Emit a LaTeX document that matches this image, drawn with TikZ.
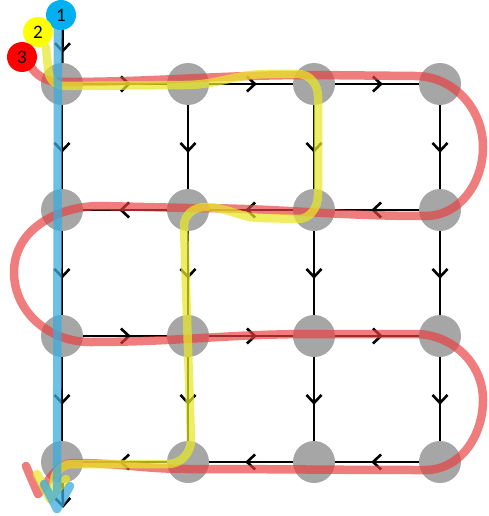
\documentclass[tikz,border=0pt]{standalone}
\usepackage{fontspec}
\setmainfont{Carlito}
\usetikzlibrary{arrows.meta,decorations.markings}
\definecolor{dotgray}{RGB}{166,166,166}
\definecolor{pred}{RGB}{232,64,64}
\definecolor{pyellow}{RGB}{232,232,40}
\definecolor{pblue}{RGB}{60,172,222}
\definecolor{lblue}{RGB}{0,176,240}
\definecolor{lyellow}{RGB}{255,255,0}
\definecolor{lred}{RGB}{255,0,0}
\tikzset{
  dot/.style={circle,fill=dotgray,draw=none,minimum size=42pt,inner sep=0pt},
  flow/.style={line width=2.6pt,black,postaction={decorate},
    decoration={markings,mark=at position 0.57 with {\arrow{Straight Barb[length=8pt,width=15pt]}}}},
  flowin/.style={line width=2.6pt,black,postaction={decorate},
    decoration={markings,mark=at position 0.84 with {\arrow{Straight Barb[length=8pt,width=15pt]}}}},
  flowout/.style={line width=2.6pt,black,-{Straight Barb[length=8pt,width=15pt]}},
  trail/.style={line width=8.5pt,line cap=round,line join=round},
  lab/.style={circle,minimum size=30pt,inner sep=0pt,text=black,font=\fontsize{19}{19}\selectfont}
}
\begin{document}
\begin{tikzpicture}[x=1pt,y=-1pt]
\useasboundingbox (0,0) rectangle (488,516);
% nodes
\foreach \r/\y in {1/84,2/210,3/336,4/462}
  \foreach \c/\x in {1/62,2/188,3/314,4/440}
    \node[dot] (n\r\c) at (\x,\y) {};
\coordinate (topin) at (63,2);
\coordinate (botout) at (63,508);
% black edges
\foreach \r in {1,3} {
  \draw[flow] (n\r1) -- (n\r2);
  \draw[flow] (n\r2) -- (n\r3);
  \draw[flow] (n\r3) -- (n\r4);
}
\foreach \r in {2,4} {
  \draw[flow] (n\r4) -- (n\r3);
  \draw[flow] (n\r3) -- (n\r2);
  \draw[flow] (n\r2) -- (n\r1);
}
\foreach \c in {1,2,3,4} {
  \draw[flow] (n1\c) -- (n2\c);
  \draw[flow] (n2\c) -- (n3\c);
  \draw[flow] (n3\c) -- (n4\c);
}
\draw[flowin] (topin) -- (n11);
\draw[flowout] (n41) -- (botout);
% red trail
\begin{scope}[transparency group,opacity=0.68]
\draw[trail,pred] (31,67) to[out=-55,in=180] (62,82) to[out=0,in=180] (314,75) -- (415,76)
  to[out=0,in=90] (483,147) to[out=-90,in=0] (425,216) to[out=180,in=0] (188,208)
  -- (100,206) to[out=180,in=90] (14,272) to[out=-90,in=180] (90,342)
  to[out=0,in=180] (314,334) -- (415,334) to[out=0,in=90] (483,400)
  to[out=-90,in=0] (425,470) to[out=180,in=0] (188,469) to[out=180,in=0] (75,463)
  to[out=180,in=50] (38,494);
\draw[trail,pred] (26,466) -- (38,494);
\end{scope}
% yellow trail
\begin{scope}[transparency group,opacity=0.72]
\draw[trail,pyellow] (46,47) -- (48,68) to[out=-90,in=180] (64,86) -- (185,85)
  to[out=0,in=180] (268,74) -- (298,74) to[out=0,in=90] (318,96) -- (318,195)
  to[out=-90,in=0] (298,219) -- (262,218) to[out=180,in=0] (205,207)
  to[out=180,in=90] (184,226) -- (191,440) to[out=-90,in=0] (168,464) -- (72,464)
  to[out=180,in=90] (54,482) -- (50,498);
\draw[trail,pyellow] (37,474) -- (50,499) -- (66,479);
\end{scope}
% blue trail
\begin{scope}[transparency group,opacity=0.75]
\draw[trail,pblue] (58,28) -- (57,508);
\draw[trail,pblue] (44,484) -- (57,509) -- (70,486);
\end{scope}
% labels
\node[lab,fill=lblue] (l1) at (61,15) {1};
\node[lab,fill=lyellow] (l2) at (38,32) {2};
\node[lab,fill=lred] (l3) at (22,57) {3};
\end{tikzpicture}
\end{document}
